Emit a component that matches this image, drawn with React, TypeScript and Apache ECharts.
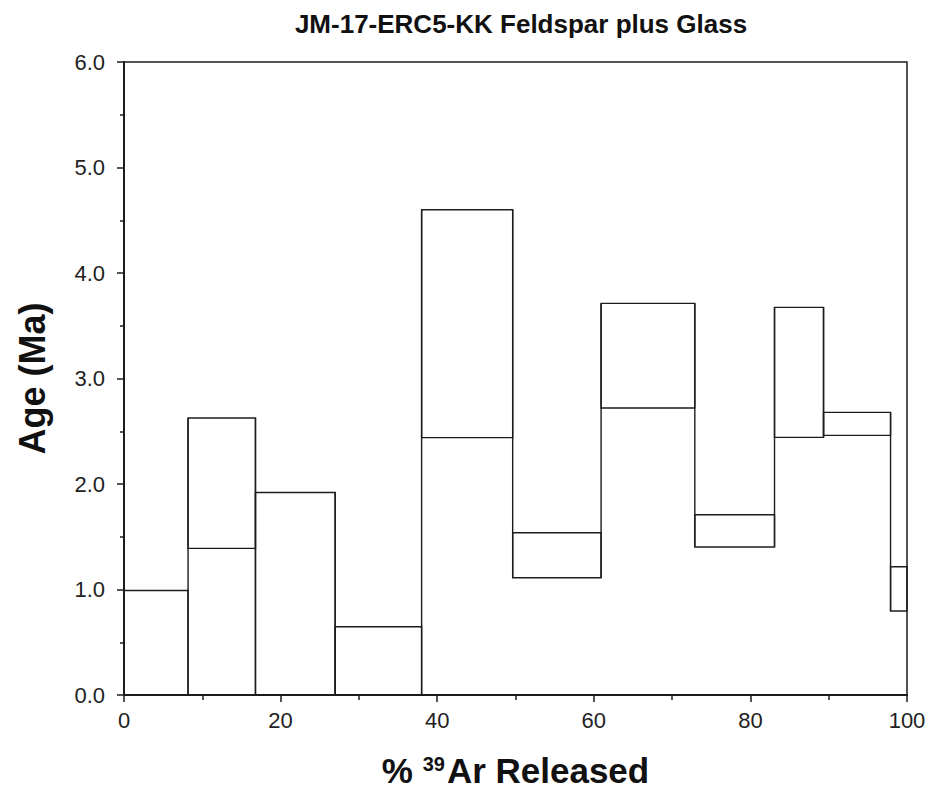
import React, { useEffect, useRef } from "react";
import * as echarts from "echarts";

// Step heating data: cumulative % 39Ar released (start/end) and age bounds (Ma)
const stepStart = [0, 8.18, 16.79, 26.97, 38.01, 49.64, 60.93, 72.9, 83.08, 89.34, 97.9];
const stepEnd = [8.18, 16.79, 26.97, 38.01, 49.64, 60.93, 72.9, 83.08, 89.34, 97.9, 100];
const ageHigh = [0.99, 2.625, 1.92, 0.647, 4.6, 1.538, 3.712, 1.709, 3.674, 2.679, 1.216];
const ageLow = [-0.6, 1.39, -0.4, -0.5, 2.44, 1.112, 2.72, 1.403, 2.442, 2.461, 0.796];

const titleText = "JM-17-ERC5-KK Feldspar plus Glass";
const xTicks = [0, 20, 40, 60, 80, 100];
const yTicks = [0, 1, 2, 3, 4, 5, 6];

const FONT = "'Liberation Sans', Arial, Helvetica, sans-serif";
const INK = "#1c1c1c";

export default function App() {
  const ref = useRef<HTMLDivElement>(null);

  useEffect(() => {
    if (!ref.current) return;
    const chart = echarts.init(ref.current, undefined, { renderer: "svg" });
    const yMin = yTicks[0];
    const data = stepStart.map((s, i) => [s, stepEnd[i], Math.max(ageLow[i], yMin), ageHigh[i]]);

    const renderItem = (params: any, api: any) => {
      const i = params.dataIndex;
      const x0 = api.value(0);
      const x1 = api.value(1);
      const lo = api.value(2);
      const hi = api.value(3);
      const p0 = api.coord([x0, hi]);
      const p1 = api.coord([x1, lo]);
      const children: any[] = [
        {
          type: "rect",
          shape: { x: p0[0], y: p0[1], width: p1[0] - p0[0], height: p1[1] - p0[1] },
          style: { fill: "none", stroke: INK, lineWidth: 1.4 },
        },
      ];
      if (i < stepStart.length - 1) {
        const nLo = Math.max(ageLow[i + 1], yMin);
        const nHi = ageHigh[i + 1];
        const a = api.coord([x1, Math.min(lo, nLo)]);
        const b = api.coord([x1, Math.max(hi, nHi)]);
        children.push({
          type: "line",
          shape: { x1: a[0], y1: a[1], x2: b[0], y2: b[1] },
          style: { stroke: INK, lineWidth: 1.4 },
        });
      }
      return { type: "group", children };
    };

    chart.setOption({
      animation: false,
      backgroundColor: "#ffffff",
      title: {
        text: titleText,
        left: 516,
        top: 6,
        textAlign: "center",
        textStyle: { fontFamily: FONT, fontWeight: "bold", fontSize: 26, color: "#111" },
      },
      grid: {
        left: 124,
        top: 62,
        right: 21,
        bottom: 93,
        show: true,
        borderColor: INK,
        borderWidth: 1.5,
        backgroundColor: "transparent",
        containLabel: false,
        outerBoundsMode: "none",
      },
      xAxis: {
        type: "value",
        min: xTicks[0],
        max: xTicks[xTicks.length - 1],
        interval: xTicks[1] - xTicks[0],
        name: "{a|% }{sup|39}{a|Ar Released}",
        nameLocation: "middle",
        nameGap: 59,
        nameTextStyle: {
          rich: {
            a: { fontFamily: FONT, fontWeight: "bold", fontSize: 35, color: "#111", lineHeight: 32 },
            sup: { fontFamily: FONT, fontWeight: "bold", fontSize: 20, color: "#111", lineHeight: 20, verticalAlign: "top", padding: [0, 2, 0, 0] },
          },
        },
        axisLine: { lineStyle: { color: INK, width: 2 } },
        axisTick: { show: true, inside: false, length: 7, lineStyle: { color: INK, width: 1.5 } },
        minorTick: { show: true, splitNumber: 2, length: 5, lineStyle: { color: INK, width: 1.5 } },
        axisLabel: { fontFamily: FONT, fontSize: 22, color: "#222", margin: 14 },
        splitLine: { show: false },
      },
      yAxis: {
        type: "value",
        min: yTicks[0],
        max: yTicks[yTicks.length - 1],
        interval: yTicks[1] - yTicks[0],
        name: "Age (Ma)",
        nameLocation: "middle",
        nameGap: 74,
        nameTextStyle: { fontFamily: FONT, fontWeight: "bold", fontSize: 36, color: "#111" },
        axisLine: { show: true, lineStyle: { color: INK, width: 2 } },
        axisTick: { show: true, inside: false, length: 7, lineStyle: { color: INK, width: 1.5 } },
        minorTick: { show: true, splitNumber: 2, length: 4, lineStyle: { color: INK, width: 1.5 } },
        axisLabel: {
          fontFamily: FONT,
          fontSize: 22,
          color: "#222",
          margin: 19,
          formatter: (v: number) => v.toFixed(1),
        },
        splitLine: { show: false },
      },
      series: [
        {
          type: "custom",
          renderItem,
          data,
          encode: { x: [0, 1], y: [2, 3] },
          clip: false,
          z: 3,
        },
      ],
    });

    return () => chart.dispose();
  }, []);

  return (
    <div
      ref={ref}
      style={{ position: "fixed", left: 0, top: 0, width: 928, height: 788, background: "#fff" }}
    />
  );
}
